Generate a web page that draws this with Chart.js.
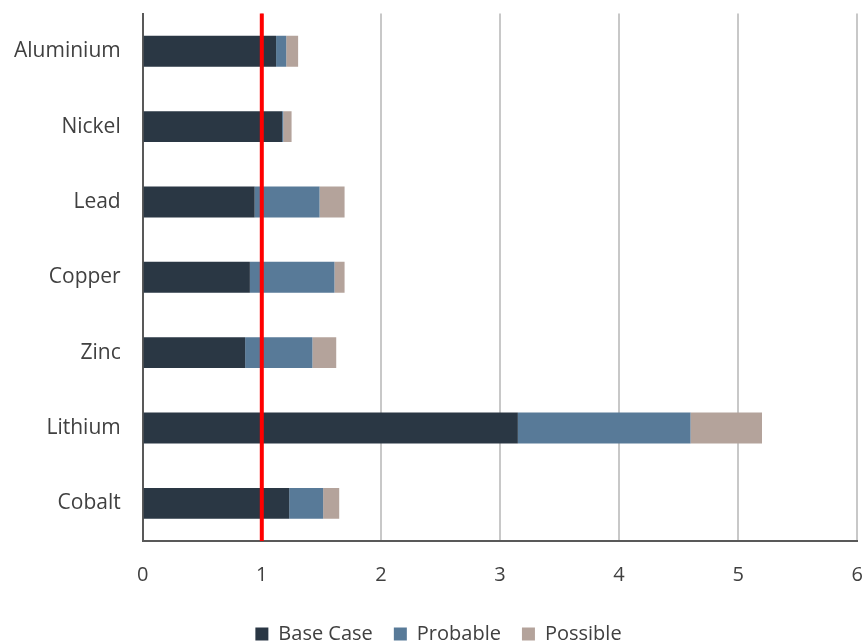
<!DOCTYPE html>
<html>
<head>
<meta charset="utf-8">
<script src="https://cdn.jsdelivr.net/npm/chart.js@4/dist/chart.umd.min.js"></script>
<style>
  html, body { margin: 0; padding: 0; background: #ffffff; overflow: hidden; }
  #wrap { width: 864px; height: 644px; }
</style>
</head>
<body>
<div id="wrap"><canvas id="c" width="864" height="644"></canvas></div>
<script>
// Metals and their demand multiples under each scenario (stacked increments)
const metals = ['Aluminium', 'Nickel', 'Lead', 'Copper', 'Zinc', 'Lithium', 'Cobalt'];
const baseCase = [1.12, 1.17, 0.94, 0.90, 0.86, 3.15, 1.23];
const probable = [0.085, 0.01, 0.545, 0.71, 0.565, 1.45, 0.285];
const possible = [0.10, 0.07, 0.21, 0.085, 0.20, 0.60, 0.135];
const xTicks = [0, 1, 2, 3, 4, 5, 6];
const threshold = 1;

const FONT = '"Open Sans", Lato, "Liberation Sans", sans-serif';

// Vertical reference line at the threshold value
const thresholdLine = {
  id: 'thresholdLine',
  afterDatasetsDraw(chart) {
    const { ctx, chartArea, scales } = chart;
    const x = scales.x.getPixelForValue(threshold);
    ctx.save();
    ctx.strokeStyle = '#ff0000';
    ctx.lineWidth = 4;
    ctx.beginPath();
    ctx.moveTo(x, chartArea.top);
    ctx.lineTo(x, chartArea.bottom);
    ctx.stroke();
    ctx.restore();
  }
};

new Chart(document.getElementById('c'), {
  type: 'bar',
  data: {
    labels: metals,
    datasets: [
      { label: 'Base Case', data: baseCase, backgroundColor: '#2a3744' },
      { label: 'Probable', data: probable, backgroundColor: '#587a98' },
      { label: 'Possible', data: possible, backgroundColor: '#b4a39b' }
    ]
  },
  options: {
    indexAxis: 'y',
    responsive: false,
    animation: false,
    devicePixelRatio: 1,
    layout: { padding: { top: 0, right: 0, left: 13, bottom: -10 } },
    datasets: { bar: { barPercentage: 0.41, categoryPercentage: 1.0, borderWidth: 0 } },
    scales: {
      x: {
        stacked: true,
        min: 0,
        max: 6,
        afterBuildTicks(scale) { scale.ticks = xTicks.map(v => ({ value: v })); },
        afterFit(scale) { scale.height += 15; },
        grid: { color: '#c8c8c8', lineWidth: 2, drawTicks: true, tickLength: 21, tickColor: 'rgba(0,0,0,0)' },
        border: { display: true, color: '#595959', width: 2 },
        ticks: { color: '#404040', font: { family: FONT, size: 20 }, padding: 1 }
      },
      y: {
        stacked: true,
        grid: { display: true, drawOnChartArea: false, color: 'rgba(0,0,0,0)', drawTicks: true, tickLength: 21, tickColor: 'rgba(0,0,0,0)' },
        border: { display: true, color: '#595959', width: 2 },
        ticks: { color: '#404040', font: { family: FONT, size: 21 }, padding: 1 }
      }
    },
    plugins: {
      legend: {
        position: 'bottom',
        labels: {
          color: '#404040',
          font: { family: FONT, size: 20 },
          boxWidth: 13,
          boxHeight: 13,
          padding: 21
        }
      },
      tooltip: { enabled: false }
    }
  },
  plugins: [thresholdLine]
});
</script>
</body>
</html>
